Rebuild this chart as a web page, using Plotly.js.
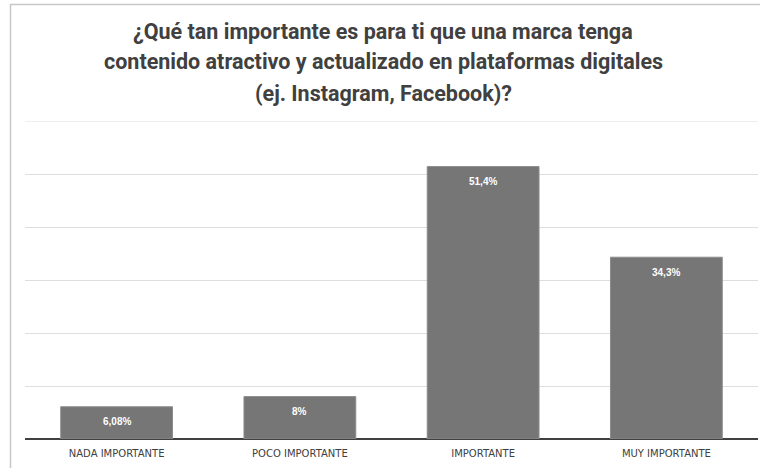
<!DOCTYPE html>
<html>
<head>
<meta charset="utf-8">
<script src="https://cdn.plot.ly/plotly-3.0.1.min.js"></script>
<style>html,body{margin:0;padding:0;background:#fff;}#chart{width:760px;height:468px;}</style>
</head>
<body>
<div id="chart"></div>
<script>
const categories = ["NADA IMPORTANTE", "POCO IMPORTANTE", "IMPORTANTE", "MUY IMPORTANTE"];
const values = [6.08, 8, 51.4, 34.3];
const valueLabels = ["6,08%", "8%", "51,4%", "34,3%"];
const titleLines = [
  "¿Qué tan importante es para ti que una marca tenga",
  "contenido atractivo y actualizado en plataformas digitales",
  "(ej. Instagram, Facebook)?"
];

const W = 760, H = 468;
const m = {l: 25, r: 2, t: 121, b: 29};
const ph = H - m.t - m.b, pw = W - m.l - m.r;
const py = p => 1 + (m.t - p) / ph;
const px = p => (p - m.l) / pw;

const titleY = [32, 62, 93];
const titleAnns = titleLines.map((t, i) => ({
  text: t, xref: 'paper', yref: 'paper', x: px(383), y: py(titleY[i]),
  xanchor: 'center', yanchor: 'middle', showarrow: false,
  font: {family: 'Roboto, sans-serif', size: 21.5, color: '#404040', weight: 'bold'}
}));

const labelAnns = categories.map((c, i) => ({
  text: valueLabels[i], xref: 'x', yref: 'y', x: c, y: values[i],
  yshift: -15, xanchor: 'center', yanchor: 'middle', showarrow: false,
  font: {family: 'Liberation Sans, Arial, sans-serif', size: 10, color: '#ffffff', weight: 'bold'}
}));

const trace = {
  type: 'bar', x: categories, y: values,
  textposition: 'none',
  marker: {color: '#767676', line: {color: '#8c8c8c', width: 1}},
  width: 0.61, hoverinfo: 'none'
};

const layout = {
  width: W, height: H, margin: m,
  paper_bgcolor: '#ffffff', plot_bgcolor: '#ffffff',
  showlegend: false,
  xaxis: {
    type: 'category', showgrid: false, zeroline: false, showline: false,
    ticks: '', tickfont: {family: 'DejaVu Sans', stretch: 'condensed', size: 10, color: '#404040'},
    ticklabelstandoff: 7
  },
  yaxis: {
    range: [0, 60], dtick: 10, showticklabels: false, ticks: '',
    showgrid: true, gridcolor: '#dedede', gridwidth: 1,
    zeroline: true, zerolinecolor: '#404040', zerolinewidth: 2, showline: false
  },
  annotations: titleAnns.concat(labelAnns),
  shapes: [
    {type: 'line', xref: 'paper', yref: 'y', x0: 0, x1: 1, y0: 60, y1: 60, line: {color: '#dedede', width: 1}, layer: 'below'},
    {type: 'line', xref: 'paper', yref: 'paper', x0: px(10.5), x1: px(10.5), y0: py(4), y1: py(470), line: {color: '#c8c8c8', width: 1.5}},
    {type: 'line', xref: 'paper', yref: 'paper', x0: px(10.5), x1: px(762), y0: py(4.5), y1: py(4.5), line: {color: '#c8c8c8', width: 1.5}}
  ]
};

Plotly.newPlot('chart', [trace], layout, {staticPlot: true, displayModeBar: false});
</script>
</body>
</html>
